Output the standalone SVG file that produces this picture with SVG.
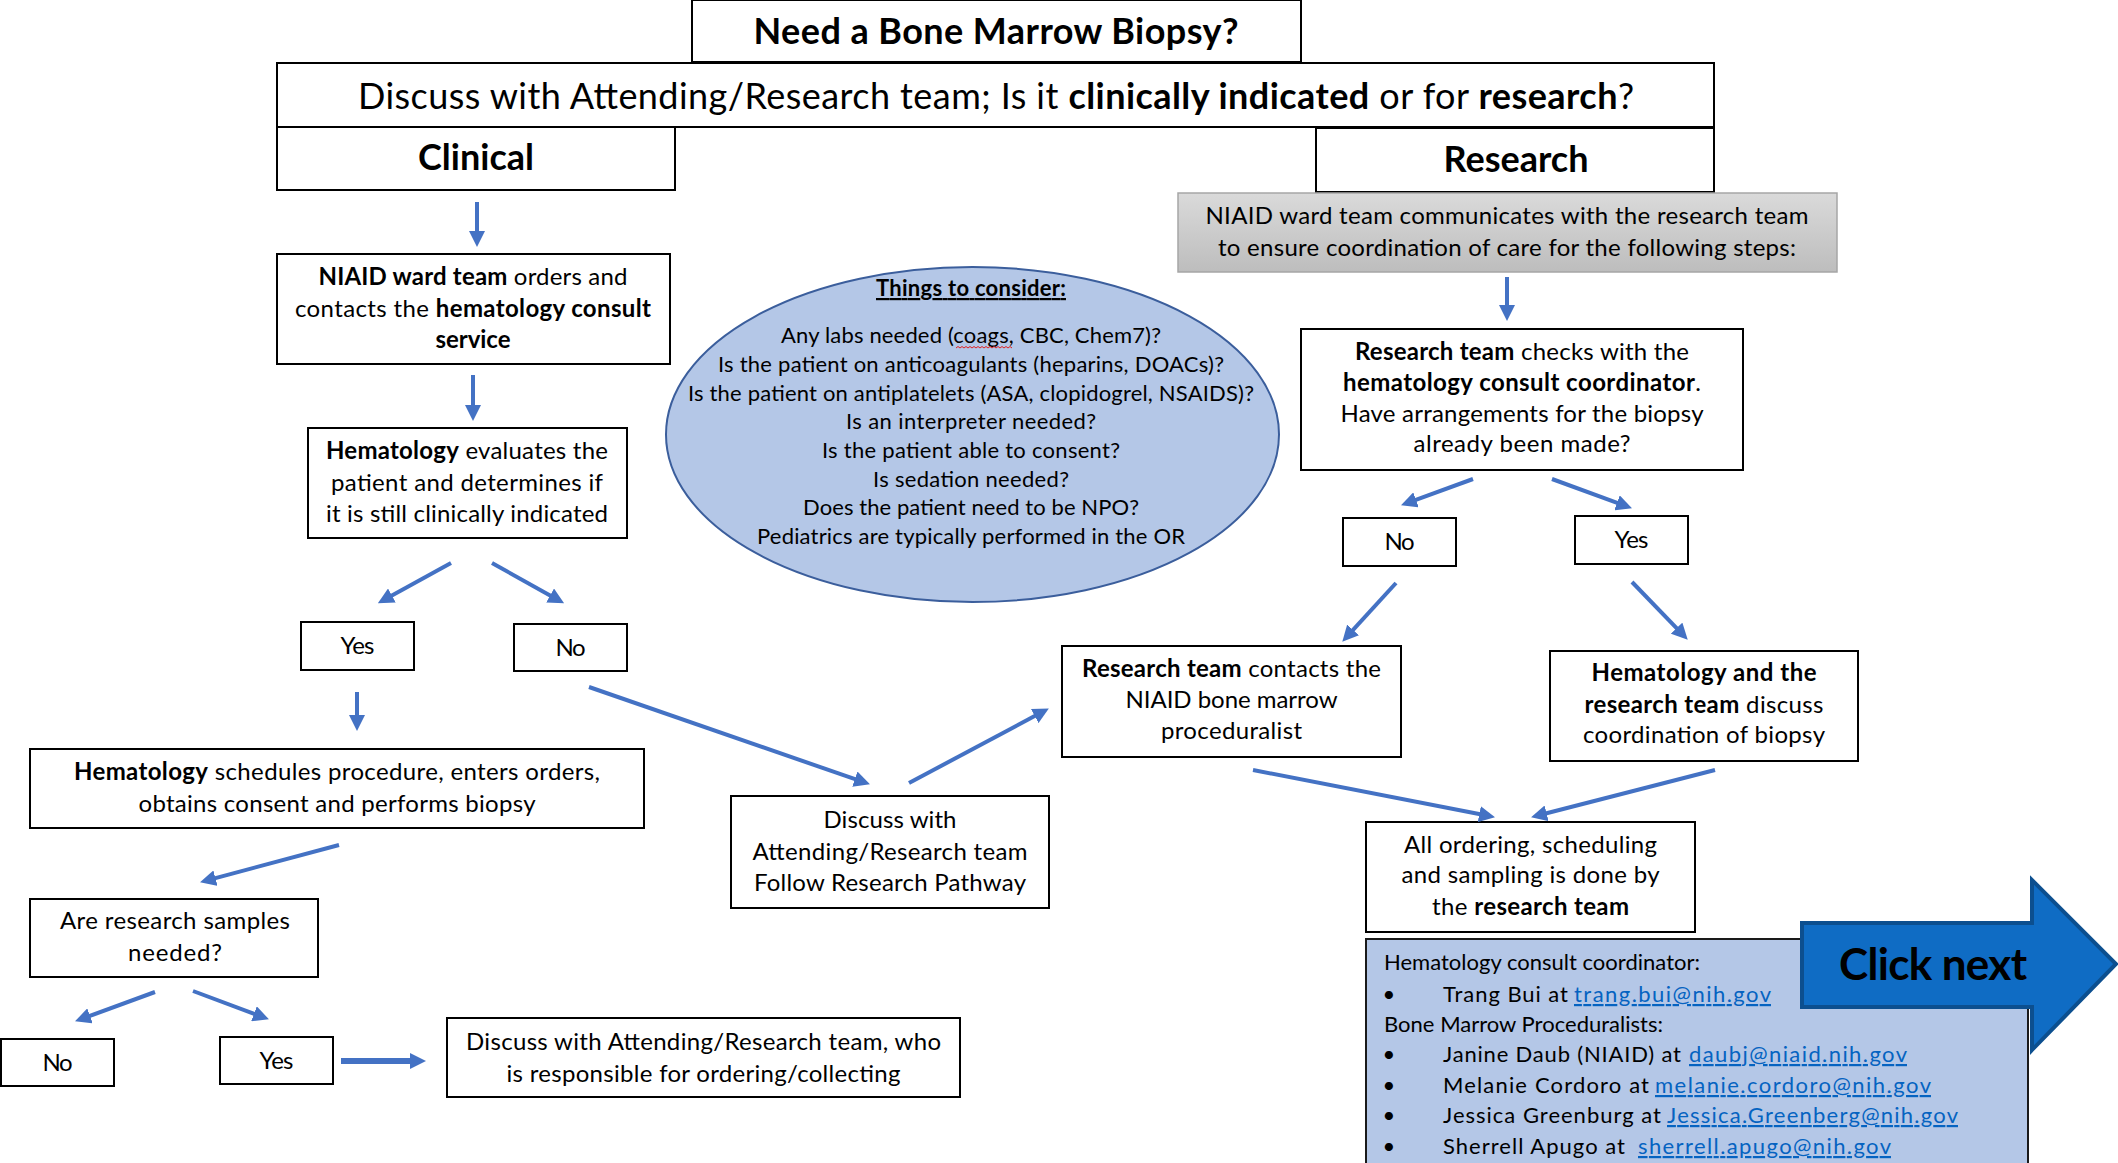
<svg xmlns="http://www.w3.org/2000/svg" width="2118" height="1163" viewBox="0 0 2118 1163">
<style>
.b{fill:#fff;stroke:#000;stroke-width:2}
text{font-family:Lato,"Liberation Sans",sans-serif;fill:#000}
.c{text-anchor:middle}
.h{font-size:36px}
.m{font-size:24px}
.s{font-size:22px}
.w{font-weight:700}
.lk{fill:#0563c1;text-decoration:underline}
.arr{stroke:#4472c4;stroke-width:4;fill:none;marker-end:url(#ah)}
</style>
<defs>
<marker id="ah" markerUnits="userSpaceOnUse" viewBox="0 0 16 16" refX="1" refY="8" markerWidth="16" markerHeight="16" orient="auto">
<path d="M0,0 L16,8 L0,16 z" fill="#4472c4"/>
</marker>
<linearGradient id="gr" x1="0" y1="0" x2="0" y2="1">
<stop offset="0" stop-color="#dadada"/>
<stop offset="1" stop-color="#bdbdbd"/>
</linearGradient>
</defs>
<rect width="2118" height="1163" fill="#fff"/>

<g id="title">
<rect class="b" x="692" y="0" width="609" height="62"/>
<text class="c h w" x="996" y="44" textLength="485">Need a Bone Marrow Biopsy?</text>
</g>
<g id="question">
<rect class="b" x="277" y="63" width="1437" height="64"/>
<text class="c h" x="996" y="109" textLength="1276">Discuss with Attending/Research team; Is it <tspan class="w">clinically indicated</tspan> or for <tspan class="w">research</tspan>?</text>
</g>
<g id="clinical">
<rect class="b" x="277" y="127" width="398" height="63"/>
<text class="c h w" x="476" y="170" textLength="116">Clinical</text>
</g>
<g id="research">
<rect class="b" x="1316" y="128" width="398" height="64"/>
<text class="c h w" x="1516" y="172" textLength="145">Research</text>
</g>
<g id="research-intro">
<rect x="1178" y="193" width="659" height="79" fill="url(#gr)" stroke="#a6a6a6" stroke-width="1.5"/>
<text class="c m" x="1507" y="224" textLength="603">NIAID ward team communicates with the research team</text>
<text class="c m" x="1507" y="256" textLength="578">to ensure coordination of care for the following steps:</text>
</g>

<g id="ward-orders">
<rect class="b" x="277" y="254" width="393" height="110"/>
<text class="c m" x="473" y="285" textLength="309"><tspan class="w">NIAID ward team</tspan> orders and</text>
<text class="c m" x="473" y="317" textLength="356">contacts the <tspan class="w">hematology consult</tspan></text>
<text class="c m w" x="473" y="348" textLength="75">service</text>
</g>
<g id="heme-evaluates">
<rect class="b" x="308" y="428" width="319" height="110"/>
<text class="c m" x="467" y="459" textLength="282"><tspan class="w">Hematology</tspan> evaluates the</text>
<text class="c m" x="467" y="491" textLength="272">patient and determines if</text>
<text class="c m" x="467" y="522" textLength="282">it is still clinically indicated</text>
</g>
<g id="clin-yes">
<rect class="b" x="301" y="622" width="113" height="48"/>
<text class="c m" x="357.5" y="654" textLength="34">Yes</text>
</g>
<g id="clin-no">
<rect class="b" x="514" y="624" width="113" height="47"/>
<text class="c m" x="570.5" y="656" textLength="30">No</text>
</g>
<g id="heme-schedules">
<rect class="b" x="30" y="749" width="614" height="79"/>
<text class="c m" x="337" y="780" textLength="526"><tspan class="w">Hematology</tspan> schedules procedure, enters orders,</text>
<text class="c m" x="337" y="812" textLength="397">obtains consent and performs biopsy</text>
</g>
<g id="samples-needed">
<rect class="b" x="30" y="899" width="288" height="78"/>
<text class="c m" x="175" y="929" textLength="230">Are research samples</text>
<text class="c m" x="175" y="961" textLength="94">needed?</text>
</g>
<g id="samples-no">
<rect class="b" x="1" y="1039" width="113" height="47"/>
<text class="c m" x="57.5" y="1071" textLength="30">No</text>
</g>
<g id="samples-yes">
<rect class="b" x="220" y="1037" width="113" height="47"/>
<text class="c m" x="276.5" y="1069" textLength="34">Yes</text>
</g>
<g id="discuss-who">
<rect class="b" x="447" y="1018" width="513" height="79"/>
<text class="c m" x="703.5" y="1050" textLength="475">Discuss with Attending/Research team, who</text>
<text class="c m" x="703.5" y="1082" textLength="394">is responsible for ordering/collecting</text>
</g>
<g id="discuss-follow">
<rect class="b" x="731" y="796" width="318" height="112"/>
<text class="c m" x="890" y="828" textLength="133">Discuss with</text>
<text class="c m" x="890" y="860" textLength="275">Attending/Research team</text>
<text class="c m" x="890" y="891" textLength="272">Follow Research Pathway</text>
</g>

<g id="things-to-consider">
<ellipse cx="972.5" cy="434.5" rx="306.5" ry="167.5" fill="#b4c7e7" stroke="#3b5e9c" stroke-width="2"/>
<text class="c s w" x="971" y="296" textLength="190" style="text-decoration:underline">Things to consider:</text>
<text class="c s" x="971" y="343" textLength="380">Any labs needed (coags, CBC, Chem7)?</text>
<path d="M956,348 l2,-1.5 l2,1.5 l2,-1.5 l2,1.5 l2,-1.5 l2,1.5 l2,-1.5 l2,1.5 l2,-1.5 l2,1.5 l2,-1.5 l2,1.5 l2,-1.5 l2,1.5 l2,-1.5 l2,1.5 l2,-1.5 l2,1.5 l2,-1.5 l2,1.5 l2,-1.5 l2,1.5 l2,-1.5 l2,1.5 l2,-1.5 l2,1.5 l2,-1.5 l2,1.5" fill="none" stroke="#e02020" stroke-width="1"/>
<text class="c s" x="971" y="372" textLength="506">Is the patient on anticoagulants (heparins, DOACs)?</text>
<text class="c s" x="971" y="401" textLength="566">Is the patient on antiplatelets (ASA, clopidogrel, NSAIDS)?</text>
<text class="c s" x="971" y="429" textLength="250">Is an interpreter needed?</text>
<text class="c s" x="971" y="458" textLength="298">Is the patient able to consent?</text>
<text class="c s" x="971" y="487" textLength="196">Is sedation needed?</text>
<text class="c s" x="971" y="515" textLength="336">Does the patient need to be NPO?</text>
<text class="c s" x="971" y="544" textLength="428">Pediatrics are typically performed in the OR</text>
</g>

<g id="research-checks">
<rect class="b" x="1301" y="329" width="442" height="141"/>
<text class="c m" x="1522" y="360" textLength="334"><tspan class="w">Research team</tspan> checks with the</text>
<text class="c m" x="1522" y="391" textLength="358"><tspan class="w">hematology consult coordinator</tspan>.</text>
<text class="c m" x="1522" y="422" textLength="363">Have arrangements for the biopsy</text>
<text class="c m" x="1522" y="452" textLength="217">already been made?</text>
</g>
<g id="res-no">
<rect class="b" x="1343" y="518" width="113" height="48"/>
<text class="c m" x="1399.5" y="550" textLength="30">No</text>
</g>
<g id="res-yes">
<rect class="b" x="1575" y="516" width="113" height="48"/>
<text class="c m" x="1631.5" y="548" textLength="34">Yes</text>
</g>
<g id="research-contacts">
<rect class="b" x="1062" y="646" width="339" height="111"/>
<text class="c m" x="1231.5" y="677" textLength="299"><tspan class="w">Research team</tspan> contacts the</text>
<text class="c m" x="1231.5" y="708" textLength="212">NIAID bone marrow</text>
<text class="c m" x="1231.5" y="739" textLength="141">proceduralist</text>
</g>
<g id="heme-research-discuss">
<rect class="b" x="1550" y="651" width="308" height="110"/>
<text class="c m w" x="1704" y="681" textLength="225">Hematology and the</text>
<text class="c m" x="1704" y="713" textLength="239"><tspan class="w">research team</tspan> discuss</text>
<text class="c m" x="1704" y="743" textLength="242">coordination of biopsy</text>
</g>
<g id="all-ordering">
<rect class="b" x="1366" y="822" width="329" height="110"/>
<text class="c m" x="1530.5" y="853" textLength="253">All ordering, scheduling</text>
<text class="c m" x="1530.5" y="883" textLength="258">and sampling is done by</text>
<text class="c m" x="1530.5" y="915" textLength="197">the <tspan class="w">research team</tspan></text>
</g>

<g id="contacts">
<rect x="1366" y="939" width="662" height="240" fill="#b4c7e7" stroke="#1a1a1a" stroke-width="2"/>
<text class="s" x="1384" y="970" textLength="316">Hematology consult coordinator:</text>
<text class="s c" x="1389" y="1002">•</text>
<text class="s" x="1443" y="1002" textLength="125">Trang Bui at</text>
<text class="s lk" x="1574" y="1002" textLength="197">trang.bui@nih.gov</text>
<text class="s" x="1384" y="1032" textLength="279">Bone Marrow Proceduralists:</text>
<text class="s c" x="1389" y="1062">•</text>
<text class="s" x="1443" y="1062" textLength="238">Janine Daub (NIAID) at</text>
<text class="s lk" x="1689" y="1062" textLength="218">daubj@niaid.nih.gov</text>
<text class="s c" x="1389" y="1093">•</text>
<text class="s" x="1443" y="1093" textLength="206">Melanie Cordoro at</text>
<text class="s lk" x="1655" y="1093" textLength="276">melanie.cordoro@nih.gov</text>
<text class="s c" x="1389" y="1123">•</text>
<text class="s" x="1443" y="1123" textLength="218">Jessica Greenburg at</text>
<text class="s lk" x="1667" y="1123" textLength="291">Jessica.Greenberg@nih.gov</text>
<text class="s c" x="1389" y="1154">•</text>
<text class="s" x="1443" y="1154" textLength="182">Sherrell Apugo at</text>
<text class="s lk" x="1638" y="1154" textLength="253">sherrell.apugo@nih.gov</text>
</g>

<g id="click-next">
<polygon points="1802,923 2032,923 2032,880 2116,964 2032,1050 2032,1007 1802,1007" fill="#0f6cc4" stroke="#0c4f8f" stroke-width="4" stroke-linejoin="miter"/>
<text class="c w" x="1933" y="980" font-size="44" textLength="188">Click next</text>
</g>

<g id="connectors">
<line class="arr" x1="477" y1="202" x2="477" y2="232"/>
<line class="arr" x1="473" y1="375" x2="473" y2="406"/>
<line class="arr" x1="451" y1="563" x2="391" y2="596"/>
<line class="arr" x1="492" y1="563" x2="551" y2="596"/>
<line class="arr" x1="357" y1="692" x2="357" y2="716"/>
<line class="arr" x1="339" y1="845" x2="214.5" y2="878.4"/>
<line class="arr" x1="155" y1="992" x2="89.1" y2="1016.2"/>
<line class="arr" x1="193" y1="991" x2="254.9" y2="1014.1"/>
<line class="arr" x1="341" y1="1061" x2="411" y2="1061" style="stroke-width:6"/>
<line class="arr" x1="589" y1="687" x2="855.8" y2="779.4"/>
<line class="arr" x1="909" y1="783" x2="1035.6" y2="715.6"/>
<line class="arr" x1="1507" y1="277" x2="1507" y2="306"/>
<line class="arr" x1="1473" y1="479" x2="1415.1" y2="500.2"/>
<line class="arr" x1="1552" y1="479" x2="1617.9" y2="503.2"/>
<line class="arr" x1="1396" y1="583" x2="1352.4" y2="630.7"/>
<line class="arr" x1="1632" y1="582" x2="1677.3" y2="628.9"/>
<line class="arr" x1="1253" y1="770" x2="1480.3" y2="814.3"/>
<line class="arr" x1="1715" y1="770" x2="1545.6" y2="813.5"/>
</g>
</svg>
